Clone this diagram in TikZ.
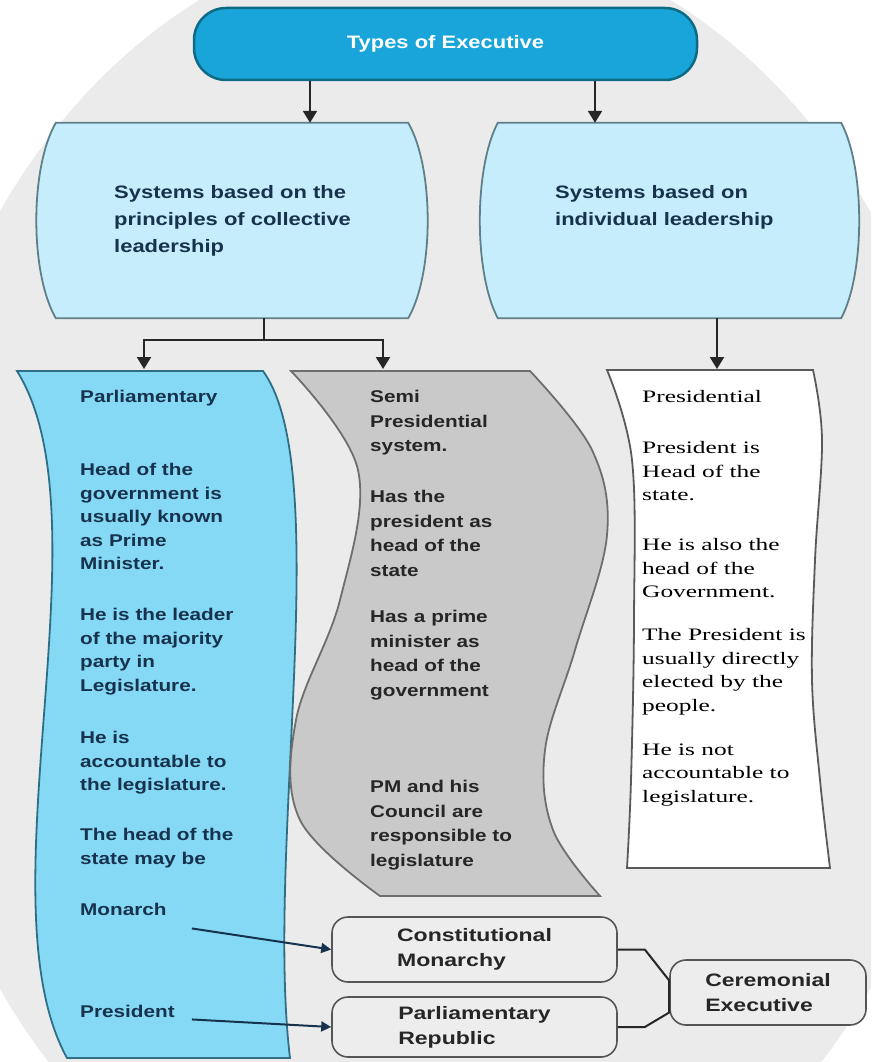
\documentclass[tikz,border=0pt]{standalone}
\usepackage{fontspec}
\setmainfont{Liberation Sans}
\newfontfamily\sansS[FakeStretch=1.22]{Liberation Sans}
\newfontfamily\sansW[FakeStretch=1.28]{Liberation Sans}
\newfontfamily\serifW[FakeStretch=1.45]{Liberation Serif}
\usetikzlibrary{arrows.meta}
\definecolor{bgc}{HTML}{EBEBEB}
\definecolor{titlefill}{HTML}{19A4DA}
\definecolor{titledraw}{HTML}{0F6A84}
\definecolor{topfill}{HTML}{C6EDFB}
\definecolor{topdraw}{HTML}{5F7F8A}
\definecolor{bluefill}{HTML}{86D9F5}
\definecolor{bluedraw}{HTML}{2F6F86}
\definecolor{greyfill}{HTML}{C9C9C9}
\definecolor{greydraw}{HTML}{6E6E6E}
\definecolor{presdraw}{HTML}{5A5A5A}
\definecolor{boxfill}{HTML}{EDEDED}
\definecolor{boxdraw}{HTML}{555555}
\definecolor{navy}{HTML}{17324D}
\definecolor{arrc}{HTML}{262626}
\begin{document}
\begin{tikzpicture}[x=1pt,y=-1pt,
  lbl/.style={inner sep=0pt, anchor=north west, align=left},
  ptxt/.style={lbl, text=navy, font=\sansS\bfseries\fontsize{17}{23.5}\selectfont},
  gtxt/.style={lbl, text=black!85, font=\sansS\bfseries\fontsize{17}{24.5}\selectfont},
  rtxt/.style={lbl, text=black, font=\serifW\fontsize{17.5}{23.5}\selectfont},
  ttxt/.style={lbl, text=navy, font=\sansS\bfseries\fontsize{18}{27}\selectfont},
  holder/.style={inner sep=0pt, minimum height=195pt},
  topbox/.style={fill=topfill, draw=topdraw, line width=1.8pt},
  bluecol/.style={fill=bluefill, draw=bluedraw, line width=1.8pt},
  greycol/.style={fill=greyfill, draw=greydraw, line width=1.8pt},
  prescol/.style={fill=white, draw=presdraw, line width=1.8pt},
  smallbox/.style={draw=boxdraw, fill=boxfill, line width=1.6pt, rounded corners=16pt,
    align=left, text=black!85, inner sep=0pt,
    font=\sansW\bfseries\fontsize{18}{25}\selectfont},
  titlebox/.style={fill=titlefill, draw=titledraw, line width=2.5pt, rounded corners=32pt,
    text=white, font=\sansS\bfseries\fontsize{18}{22}\selectfont,
    minimum width=503pt, minimum height=72pt, inner sep=0pt},
  conn/.style={draw=arrc, line width=2.2pt},
  arr/.style={draw=arrc, line width=2.2pt, -{Triangle[width=14pt,length=12pt]}},
  arrB/.style={draw=navy, line width=2pt, -{Triangle[width=10pt,length=10pt]}},
  brk/.style={draw=arrc, line width=2pt, line join=round}
]
\useasboundingbox (0,0) rectangle (871,1062);
\clip (0,0) rectangle (871,1062);
\fill[white] (0,0) rectangle (871,1062);
\fill[bgc] (435,600) ellipse [x radius=535pt, y radius=668pt];

% title
\node[titlebox] (title) at (445.5,44) {Types of Executive};

% top boxes
\node[holder, minimum width=352pt] (coll) at (232,220.5) {};
\node[holder, minimum width=343pt] (indiv) at (669.5,220.5) {};
\path[topbox] (coll.north west) -- (coll.north east) .. controls +(26,45) and +(26,-45) .. (coll.south east)
  -- (coll.south west) .. controls +(-26,-45) and +(-26,45) .. (coll.north west) -- cycle;
\path[topbox] (indiv.north west) -- (indiv.north east) .. controls +(24,45) and +(24,-45) .. (indiv.south east)
  -- (indiv.south west) .. controls +(-24,-45) and +(-24,45) .. (indiv.north west) -- cycle;
\node[ttxt] (colltxt) at (114,185.7) {Systems based on the\\principles of collective\\leadership};
\node[ttxt] (indivtxt) at (555,185.7) {Systems based on\\individual leadership};

% columns
\path[bluecol] (17,371) -- (263,371) .. controls (335,470) and (265,850) .. (290,1058)
  -- (67,1058) .. controls (-20,900) and (110,520) .. (17,371) -- cycle;
\path[greycol] (291,371) -- plot[smooth, tension=0.6] coordinates {(530,371) (592,450) (607,535) (575,650) (545,750) (553,830) (600,896)}
  -- plot[smooth, tension=0.6] coordinates {(380,896) (300,820) (296,720) (340,600) (358,470) (291,371)} -- cycle;
\path[prescol] (607,370) -- plot[smooth, tension=0.6] coordinates {(813,370) (822,440) (815,560) (812,680) (820,780) (830,868)}
  -- plot[smooth, tension=0.6] coordinates {(627,868) (631,780) (634,620) (632,460) (607,370)} -- cycle;

% parliamentary texts
\node[ptxt] (p0) at (80,390) {Parliamentary};
\node[ptxt] (p1) at (80,463) {Head of the\\government is\\usually known\\as Prime\\Minister.};
\node[ptxt] (p2) at (80,608) {He is the leader\\of the majority\\party in\\Legislature.};
\node[ptxt] (p3) at (80,731) {He is\\accountable to\\the legislature.};
\node[ptxt] (p4) at (80,828) {The head of the\\state may be};
\node[ptxt] (monarch) at (80,903) {Monarch};
\node[ptxt] (president) at (80,1005) {President};

% semi presidential texts
\node[gtxt] (s0) at (370,390) {Semi\\Presidential\\system.};
\node[gtxt] (s1) at (370,490) {Has the\\president as\\head of the\\state};
\node[gtxt] (s2) at (370,610) {Has a prime\\minister as\\head of the\\government};
\node[gtxt] (s3) at (370,780) {PM and his\\Council are\\responsible to\\legislature};

% presidential texts
\node[rtxt] (r0) at (642,390.5) {Presidential};
\node[rtxt] (r1) at (642,441.5) {President is\\Head of the\\state.};
\node[rtxt] (r2) at (642,538.5) {He is also the\\head of the\\Government.};
\node[rtxt] (r3) at (642,628.5) {The President is\\usually directly\\elected by the\\people.};
\node[rtxt] (r4) at (642,743.5) {He is not\\accountable to\\legislature.};

% bottom boxes
\node[smallbox, minimum width=285pt, minimum height=65pt] (cm) at (474.5,949.5) {Constitutional\\Monarchy};
\node[smallbox, minimum width=285pt, minimum height=60pt] (pr) at (474.5,1027) {Parliamentary\\Republic};
\node[smallbox, minimum width=196pt, minimum height=65pt] (ce) at (768,992.5) {Ceremonial\\Executive};

% connectors
\coordinate (split) at (264,340);
\coordinate (parltop) at (144,369);
\coordinate (semitop) at (383,369);
\coordinate (prestop) at (717,369);
\draw[arr] (title.south -| 310,0) -- (coll.north -| 310,0);
\draw[arr] (title.south -| 595,0) -- (indiv.north -| 595,0);
\draw[conn] (coll.south -| split) -- (split);
\draw[arr] (split) -| (parltop);
\draw[arr] (split) -| (semitop);
\draw[arr] (indiv.south -| prestop) -- (prestop);
\draw[arrB] ([xshift=25pt,yshift=-19pt]monarch.east) -- (cm.west);
\draw[arrB] ([xshift=17pt,yshift=-8pt]president.east) -- (pr.west);
\draw[brk] (cm.east) -- ++(27,0) -- ([yshift=12pt]ce.west) -- ([yshift=-20pt]ce.west)
  -- ([xshift=27pt]pr.east) -- (pr.east);
\end{tikzpicture}
\end{document}
